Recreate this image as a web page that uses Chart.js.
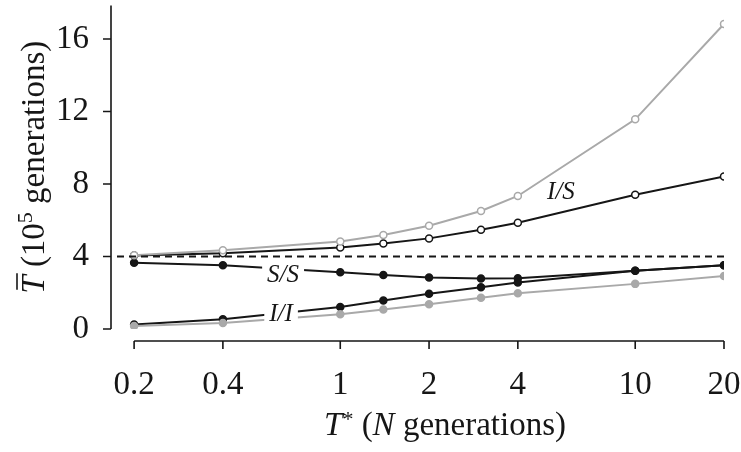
<!DOCTYPE html>
<html>
<head>
<meta charset="utf-8">
<script src="https://cdn.jsdelivr.net/npm/chart.js@4/dist/chart.umd.min.js"></script>
<style>
  body { margin: 0; background: #fff; }
</style>
</head>
<body>
<canvas id="tChart" width="741" height="452"></canvas>
<script>
// T* values (N generations)
const tStar = [0.2, 0.4, 1, 1.4, 2, 3, 4, 10, 20];
// mean time, 10^5 generations
const grayOpen   = [4.07, 4.34, 4.83, 5.19, 5.7, 6.51, 7.34, 11.57, 16.83];
const isOpen     = [4.05, 4.18, 4.5, 4.72, 5.0, 5.48, 5.86, 7.41, 8.41];
const ssFilled   = [3.65, 3.52, 3.13, 2.98, 2.84, 2.78, 2.8, 3.22, 3.52];
const iiFilled   = [0.25, 0.54, 1.22, 1.57, 1.94, 2.31, 2.57, 3.22, 3.52];
const grayFilled = [0.16, 0.33, 0.81, 1.08, 1.37, 1.72, 1.97, 2.49, 2.93];
const refLevel = 4;

const xTicks = [0.2, 0.4, 1, 2, 4, 10, 20];
const yTicks = [0, 4, 8, 12, 16];

const X_MIN = 0.175, X_MAX = 20, Y_MAX = 17.85;
const GRAY = '#a9a9a9';
const BLACK = '#161616';
const SERIF = '"Liberation Serif", "DejaVu Serif", serif';

const pts = ys => tStar.map((x, i) => ({x: x, y: ys[i]}));

function series(ys, color, open) {
    return {
        data: pts(ys),
        borderColor: color,
        borderWidth: 2,
        pointRadius: 3.5,
        pointBorderWidth: 1.5,
        pointBorderColor: color,
        pointBackgroundColor: open ? '#fff' : color,
        tension: 0
    };
}

// text labels sitting on the curves (placed in data space)
const curveLabels = [
    {text: 'I/S', x: 5.6, y: 7.55, box: false},
    {text: 'S/S', x: 0.64, y: 2.98, box: true},
    {text: 'I/I', x: 0.63, y: 0.8, box: true}
];

function drawParts(ctx, parts, x, y) {
    let cx = x;
    parts.forEach(p => {
        ctx.font = p.font;
        ctx.fillText(p.t, cx, y + (p.dy || 0));
        const w = ctx.measureText(p.t).width;
        if (p.bar) {
            ctx.save();
            ctx.lineWidth = 1.6;
            ctx.beginPath();
            ctx.moveTo(cx + 4, y - p.bar);
            ctx.lineTo(cx + w + 2, y - p.bar);
            ctx.stroke();
            ctx.restore();
        }
        cx += w;
    });
}

function partsWidth(ctx, parts) {
    let w = 0;
    parts.forEach(p => { ctx.font = p.font; w += ctx.measureText(p.t).width; });
    return w;
}

function noPad(s) {
    s.paddingTop = 0;
    s.paddingBottom = 0;
    s.paddingLeft = 0;
    s.paddingRight = 0;
}

const axesAndText = {
    id: 'axesAndText',
    afterDatasetsDraw(chart) {
        const ctx = chart.ctx;
        const xs = chart.scales.x, ys = chart.scales.y;
        ctx.save();
        ctx.font = 'italic 25px ' + SERIF;
        ctx.textAlign = 'center';
        ctx.textBaseline = 'middle';
        curveLabels.forEach(l => {
            const px = xs.getPixelForValue(l.x), py = ys.getPixelForValue(l.y);
            const w = ctx.measureText(l.text).width;
            if (l.box) {
                ctx.fillStyle = '#fff';
                ctx.fillRect(px - w / 2 - 5, py - 11, w + 10, 22);
            }
            ctx.fillStyle = BLACK;
            ctx.fillText(l.text, px, py);
        });
        ctx.restore();
    },
    afterDraw(chart) {
        const ctx = chart.ctx;
        const area = chart.chartArea;
        const xs = chart.scales.x, ys = chart.scales.y;
        ctx.save();
        ctx.strokeStyle = BLACK;
        ctx.fillStyle = BLACK;
        ctx.lineWidth = 1.6;

        // y axis, detached from the plot
        const ax = area.left - 6;
        ctx.beginPath();
        ctx.moveTo(ax, area.top);
        ctx.lineTo(ax, ys.getPixelForValue(0));
        yTicks.forEach(v => {
            const py = ys.getPixelForValue(v);
            ctx.moveTo(ax - 8, py);
            ctx.lineTo(ax, py);
        });
        ctx.stroke();

        // x axis
        const ay = area.bottom + 12;
        ctx.beginPath();
        ctx.moveTo(xs.getPixelForValue(xTicks[0]), ay);
        ctx.lineTo(xs.getPixelForValue(xTicks[xTicks.length - 1]), ay);
        xTicks.forEach(v => {
            const px = xs.getPixelForValue(v);
            ctx.moveTo(px, ay);
            ctx.lineTo(px, ay + 8);
        });
        ctx.stroke();

        // axis titles
        const size = 33;
        const norm = size + 'px ' + SERIF;
        const ital = 'italic ' + size + 'px ' + SERIF;
        const small = Math.round(size * 0.68) + 'px ' + SERIF;
        ctx.textAlign = 'left';
        ctx.textBaseline = 'alphabetic';

        const xTitle = [
            {t: 'T', font: ital},
            {t: '*', font: small, dy: -9},
            {t: ' (', font: norm},
            {t: 'N', font: ital},
            {t: ' generations)', font: norm}
        ];
        const xw = partsWidth(ctx, xTitle);
        drawParts(ctx, xTitle, 445 - xw / 2, 435);

        const yTitle = [
            {t: 'T', font: ital, bar: 27},
            {t: ' (10', font: norm},
            {t: '5', font: small, dy: -12},
            {t: ' generations)', font: norm}
        ];
        const yw = partsWidth(ctx, yTitle);
        ctx.translate(44, (area.top + ys.getPixelForValue(0)) / 2);
        ctx.rotate(-Math.PI / 2);
        drawParts(ctx, yTitle, -yw / 2, 0);
        ctx.restore();
    }
};

const chart = new Chart(document.getElementById('tChart'), {
    type: 'line',
    data: {
        datasets: [
            {
                data: [{x: X_MIN, y: refLevel}, {x: X_MAX, y: refLevel}],
                borderColor: BLACK,
                borderWidth: 1.8,
                borderDash: [7, 5],
                pointRadius: 0
            },
            series(grayFilled, GRAY, false),
            series(grayOpen, GRAY, true),
            series(iiFilled, BLACK, false),
            series(ssFilled, BLACK, false),
            series(isOpen, BLACK, true)
        ]
    },
    options: {
        responsive: false,
        animation: false,
        layout: {padding: {left: 0, right: 17, top: 0, bottom: 0}},
        plugins: {legend: {display: false}, tooltip: {enabled: false}},
        scales: {
            x: {
                type: 'logarithmic',
                min: X_MIN,
                max: X_MAX,
                afterBuildTicks: s => { s.ticks = xTicks.map(v => ({value: v})); },
                afterFit: s => { s.height = 123; noPad(s); },
                grid: {display: false},
                border: {display: false},
                ticks: {
                    autoSkip: false,
                    maxRotation: 0,
                    padding: 29,
                    color: BLACK,
                    font: {family: SERIF, size: 33},
                    callback: v => String(v)
                }
            },
            y: {
                min: 0,
                max: Y_MAX,
                afterBuildTicks: s => { s.ticks = yTicks.map(v => ({value: v})); },
                afterFit: s => { s.width = 117; noPad(s); },
                grid: {display: false},
                border: {display: false},
                ticks: {
                    padding: 20,
                    color: BLACK,
                    font: {family: SERIF, size: 33}
                }
            }
        }
    },
    plugins: [axesAndText]
});
</script>
</body>
</html>
